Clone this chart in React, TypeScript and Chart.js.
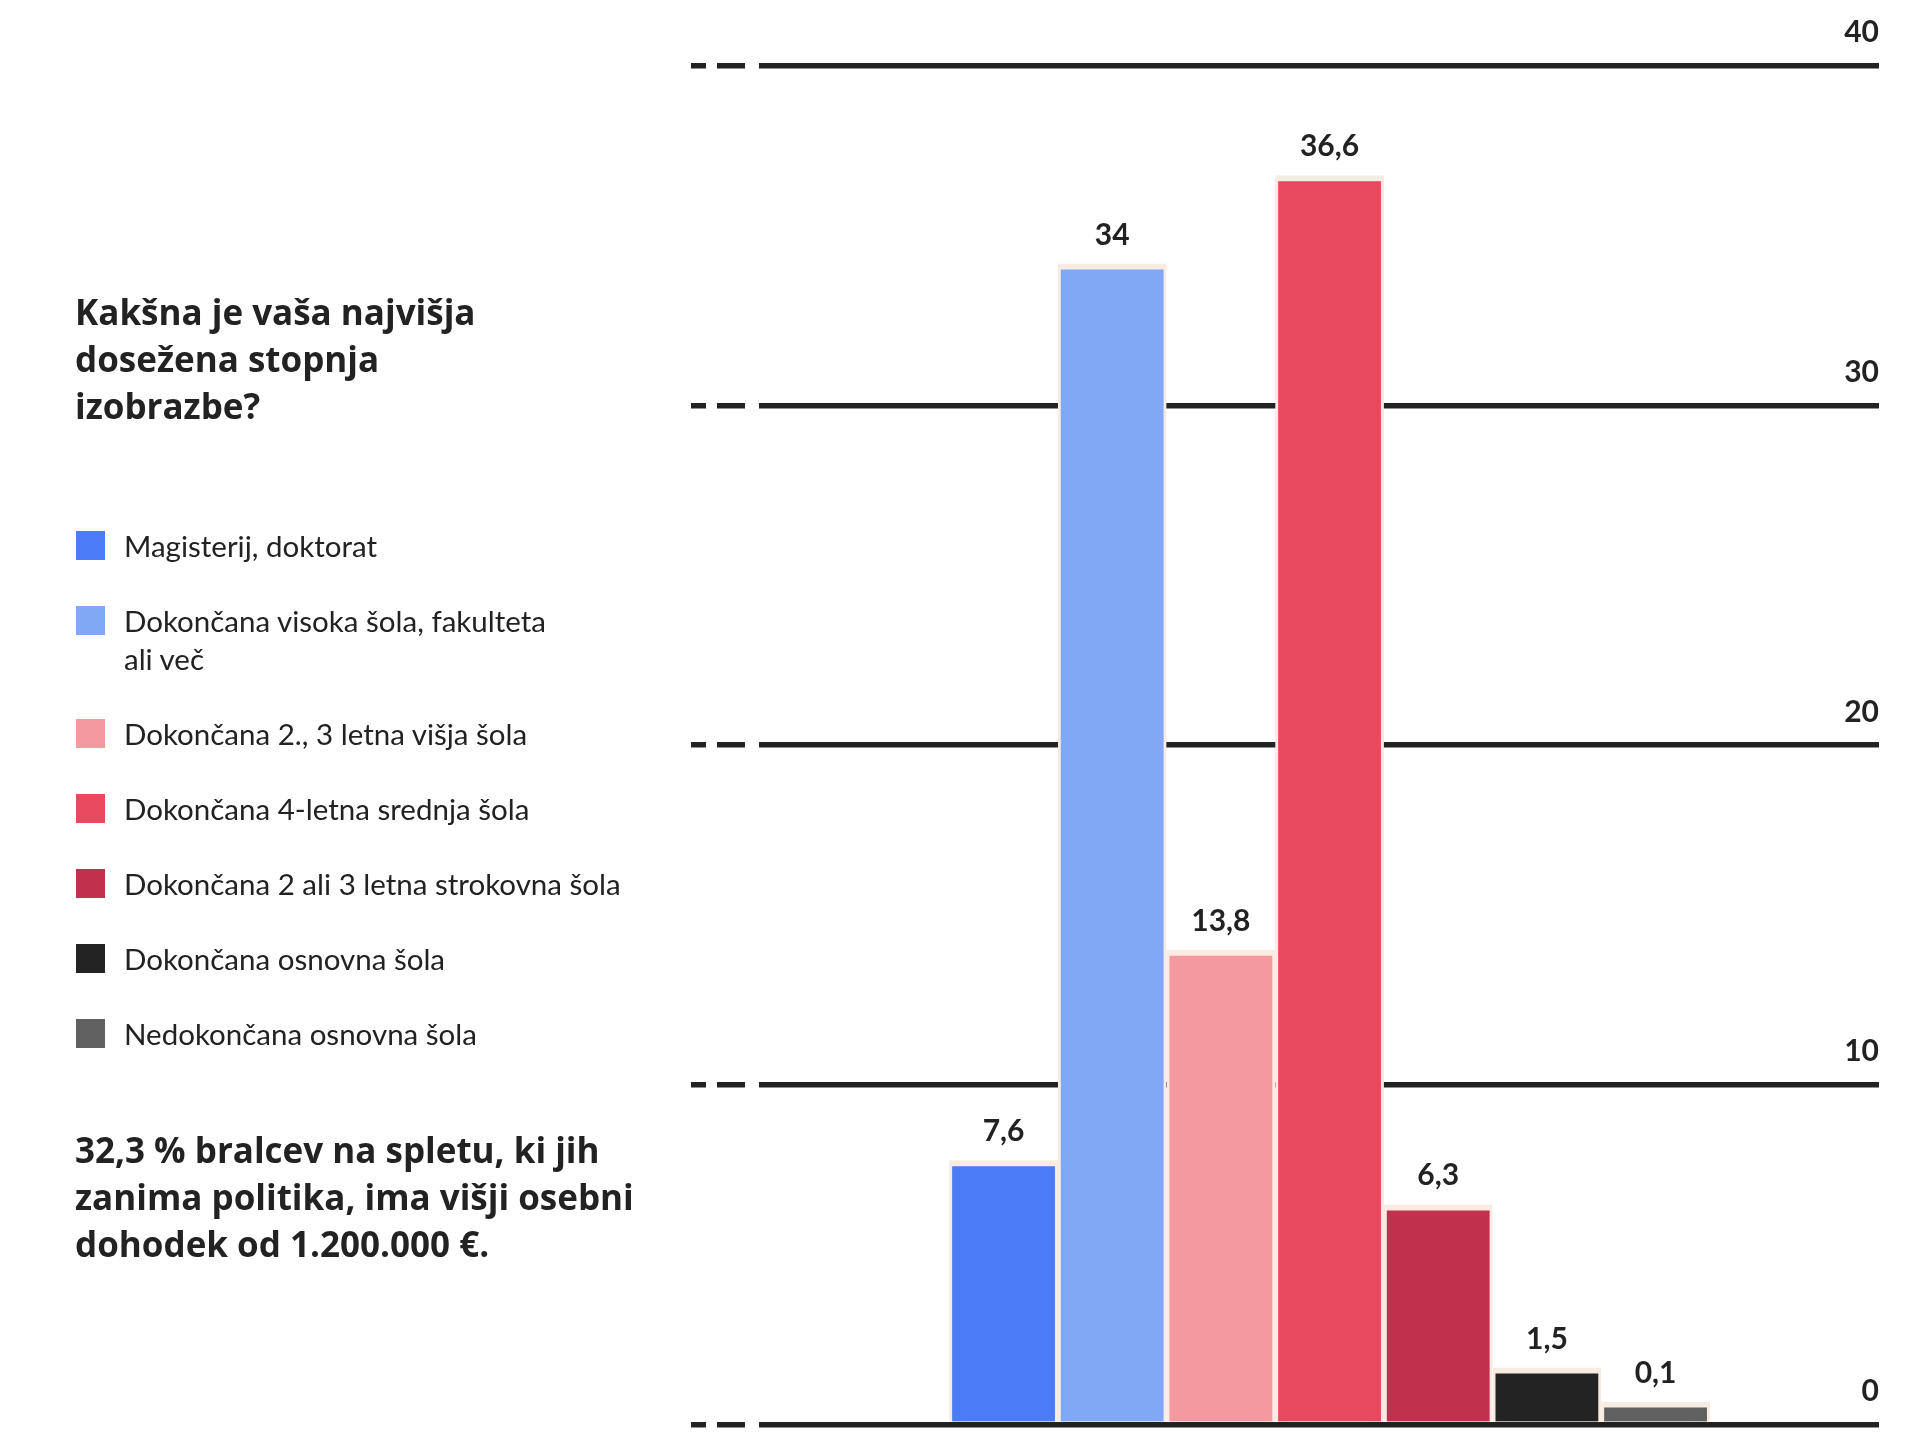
import { useEffect, useRef } from "react";
import Chart from "chart.js/auto";

// --- Data ---
const categories = [
  "Magisterij, doktorat",
  "Dokončana visoka šola, fakulteta\nali več",
  "Dokončana 2., 3 letna višja šola",
  "Dokončana 4-letna srednja šola",
  "Dokončana 2 ali 3 letna strokovna šola",
  "Dokončana osnovna šola",
  "Nedokončana osnovna šola",
];
const values = [7.6, 34, 13.8, 36.6, 6.3, 1.5, 0.1];
const barColors = ["#4c7bf7", "#80a8f5", "#f599a1", "#e8495f", "#c1304d", "#232323", "#606060"];
const yTickValues = [0, 10, 20, 30, 40];

const title = "Kakšna je vaša najvišja\ndosežena stopnja\nizobrazbe?";
const footnote = "32,3 % bralcev na spletu, ki jih\nzanima politika, ima višji osebni\ndohodek od 1.200.000 €.";

const INK = "#222222";
const EDGE = "#f7ebe2";
const FONT = "Lato, 'Open Sans', sans-serif";
const HEAD_FONT = "'Open Sans', 'Noto Sans', sans-serif";

const fmt = (v: number) => String(v).replace(".", ",");

// --- value labels above each bar ---
const valueLabels = {
  id: "valueLabels",
  afterDatasetsDraw(chart: Chart) {
    const { ctx } = chart;
    const meta = chart.getDatasetMeta(0);
    ctx.save();
    ctx.font = `bold 30px ${FONT}`;
    ctx.fillStyle = INK;
    ctx.textAlign = "center";
    ctx.textBaseline = "alphabetic";
    meta.data.forEach((bar: any, i: number) => {
      ctx.fillText(fmt(values[i]), bar.x, bar.y - 25);
    });
    ctx.restore();
  },
};

const BarChart: React.FC = () => {
  const canvasRef = useRef<HTMLCanvasElement | null>(null);

  useEffect(() => {
    if (!canvasRef.current) return;
    const chart = new Chart(canvasRef.current, {
      type: "bar",
      data: {
        datasets: [
          {
            data: values.map((v, i) => ({ x: i, y: v })),
            backgroundColor: barColors,
            borderColor: EDGE,
            borderWidth: { top: 6, left: 3, right: 3, bottom: 0 },
            inflateAmount: 6,
            barThickness: 96.8,
            minBarLength: 17,
            clip: { left: false, top: false, right: false, bottom: -3 },
          } as any,
        ],
      },
      options: {
        animation: false,
        responsive: true,
        maintainAspectRatio: false,
        layout: { padding: { left: 691, right: 41, top: 65.7, bottom: 31.5 } },
        plugins: { legend: { display: false }, tooltip: { enabled: false } },
        scales: {
          x: { type: "linear", min: -2.876, max: 8.056, offset: false, display: false },
          y: {
            position: "right",
            min: 0,
            max: 40,
            afterBuildTicks: axis => {
              axis.ticks = yTickValues.map(v => ({ value: v }));
            },
            ticks: {
              mirror: true,
              padding: 0,
              labelOffset: -33,
              color: INK,
              font: { family: FONT, size: 30, weight: "bold" },
            },
            grid: { color: INK, lineWidth: 5.5, drawTicks: false },
            border: { display: false, dash: [15, 11, 28, 14, 3000, 0] },
          },
        },
      },
      plugins: [valueLabels],
    });
    return () => chart.destroy();
  }, []);

  return (
    <div style={{ position: "absolute", left: 0, top: 0, width: 1920, height: 1456 }}>
      <canvas ref={canvasRef} />
    </div>
  );
};

export default function App() {
  return (
    <div style={{ position: "absolute", left: 0, top: 0, width: 1920, height: 1456, background: "#fff", color: INK, fontFamily: FONT }}>
      <BarChart />
      <div style={{ position: "absolute", left: 75, top: 288, fontFamily: HEAD_FONT, fontSize: 35, fontWeight: 700, lineHeight: "47px", whiteSpace: "pre-line" }}>
        {title}
      </div>
      <div style={{ position: "absolute", left: 76, top: 527 }}>
        {categories.map((c, i) => (
          <div key={c} style={{ display: "flex", alignItems: "flex-start", marginBottom: 37 }}>
            <div style={{ width: 29, height: 29, marginTop: 3.5, background: barColors[i], flex: "none" }} />
            <div style={{ marginLeft: 19, fontSize: 29.5, lineHeight: "38px", whiteSpace: "pre-line" }}>{c}</div>
          </div>
        ))}
      </div>
      <div style={{ position: "absolute", left: 75, top: 1126, fontFamily: HEAD_FONT, fontSize: 35, fontWeight: 700, lineHeight: "47px", whiteSpace: "pre-line" }}>
        {footnote}
      </div>
    </div>
  );
}
